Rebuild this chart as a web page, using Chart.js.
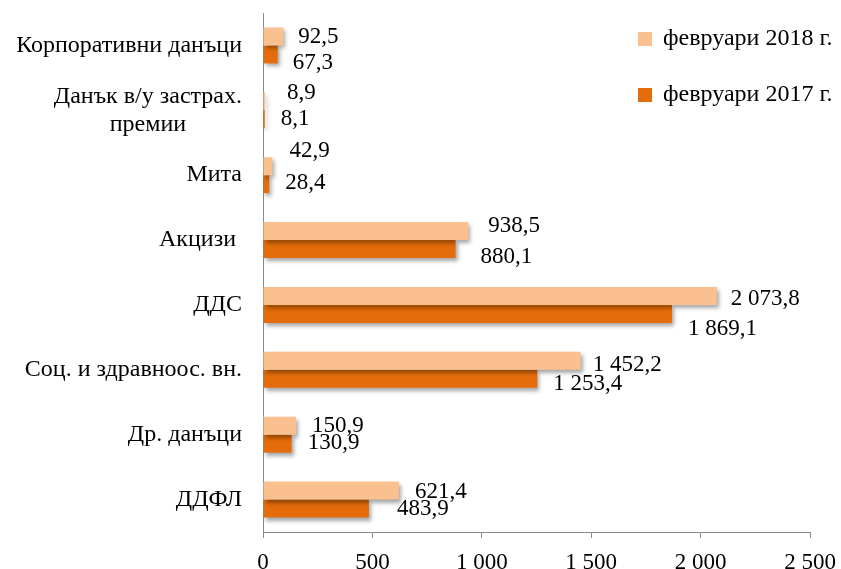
<!DOCTYPE html>
<html>
<head>
<meta charset="utf-8">
<script src="https://cdn.jsdelivr.net/npm/chart.js@4"></script>
<style>
  html, body { margin: 0; padding: 0; background: #fff; }
  #wrap { width: 841px; height: 569px; }
</style>
</head>
<body>
<div id="wrap"><canvas id="chart" width="841" height="569"></canvas></div>
<script>
// Categories, top to bottom
const categories = [
  "Корпоративни данъци",
  ["Данък в/у застрах.", "премии"],
  "Мита",
  "Акцизи ",
  "ДДС",
  "Соц. и здравноос. вн.",
  "Др. данъци",
  "ДДФЛ",
];
// Series values
const feb2018 = [92.5, 8.9, 42.9, 938.5, 2073.8, 1452.2, 150.9, 621.4];
const feb2017 = [67.3, 8.1, 28.4, 880.1, 1869.1, 1253.4, 130.9, 483.9];
// X axis ticks
const xTicks = [0, 500, 1000, 1500, 2000, 2500];

// Colors (Excel orange shades)
const lightOrange = "#FAC090";
const darkOrange = "#E46C0A";
const axisGray = "#898989";
const TEXT_FONT = "24px 'Liberation Serif'";
const NUM_FONT = "23px 'Liberation Serif'";

// Small hand nudges for the value labels, like the moved labels in the original
const labelNudge = [
  { dx: [15, 22, 17, 20, 14, 12, 16, 16], dy: [1, -8, -15, -5, 3, 4, 0, 1] },
  { dx: [15, 16, 16, 25, 16, 16, 16, 28], dy: [9, 0, -1, 8, 15, 5, -1, 0] },
];

// Number format: space for thousands, comma for decimals
function fmt(v, decimals) {
  const parts = v.toFixed(decimals).split(".");
  parts[0] = parts[0].replace(/\B(?=(\d{3})+(?!\d))/g, " ");
  return parts.join(",");
}

/* ----------------------------
    Shadow under the bars and value labels at the bar ends
---------------------------- */
const barDecor = {
  id: "barDecor",
  beforeDatasetsDraw(chart) {
    const ctx = chart.ctx;
    ctx.save();
    ctx.shadowColor = "rgba(0,0,0,0.35)";
    ctx.shadowBlur = 4;
    ctx.shadowOffsetX = 2;
    ctx.shadowOffsetY = 3;
  },
  afterDatasetsDraw(chart) {
    const ctx = chart.ctx;
    ctx.restore();
    ctx.save();
    ctx.font = NUM_FONT;
    ctx.fillStyle = "#000";
    ctx.textAlign = "left";
    ctx.textBaseline = "middle";
    chart.data.datasets.forEach((ds, di) => {
      chart.getDatasetMeta(di).data.forEach((bar, i) => {
        const n = labelNudge[di];
        ctx.fillText(fmt(ds.data[i], 1), bar.x + n.dx[i], bar.y + n.dy[i]);
      });
    });
    ctx.restore();
  },
};

/* ----------------------------
    Category labels (multi-line ones are centred in their block) and legend
---------------------------- */
const sideText = {
  id: "sideText",
  afterDraw(chart) {
    const ctx = chart.ctx;
    const yScale = chart.scales.y;
    const right = chart.chartArea.left - 21;
    const lineH = 28;
    ctx.save();
    ctx.font = TEXT_FONT;
    ctx.fillStyle = "#000";
    ctx.textBaseline = "middle";
    categories.forEach((lbl, i) => {
      const lines = Array.isArray(lbl) ? lbl : [lbl];
      const y = yScale.getPixelForTick(i);
      const maxW = Math.max(...lines.map((l) => ctx.measureText(l).width));
      ctx.textAlign = "center";
      lines.forEach((l, k) => {
        const ly = y + (k - (lines.length - 1) / 2) * lineH;
        ctx.fillText(l, right - maxW / 2, ly);
      });
    });

    // Legend in the top right corner
    const legendX = 638;
    const legendY = [39, 95];
    chart.data.datasets.forEach((ds, di) => {
      ctx.fillStyle = ds.backgroundColor;
      ctx.fillRect(legendX, legendY[di] - 7, 14, 14);
      ctx.fillStyle = "#000";
      ctx.textAlign = "left";
      ctx.fillText(ds.label, legendX + 25, legendY[di]);
    });
    ctx.restore();
  },
};

const config = {
  type: "bar",
  data: {
    labels: categories,
    datasets: [
      {
        label: "февруари 2018 г.",
        data: feb2018,
        backgroundColor: lightOrange,
        borderWidth: 0,
        categoryPercentage: 0.554,
        barPercentage: 1,
      },
      {
        label: "февруари 2017 г.",
        data: feb2017,
        backgroundColor: darkOrange,
        borderWidth: 0,
        categoryPercentage: 0.554,
        barPercentage: 1,
      },
    ],
  },
  options: {
    indexAxis: "y",
    responsive: false,
    animation: false,
    layout: { padding: { top: 13, right: 31, left: 0, bottom: 0 } },
    plugins: {
      legend: { display: false },
      tooltip: { enabled: false },
    },
    scales: {
      x: {
        min: 0,
        max: 2500,
        afterBuildTicks(scale) {
          scale.ticks = xTicks.map((v) => ({ value: v }));
        },
        afterFit(scale) {
          scale.height = 37;
          // let the layout padding alone decide the right edge
          scale.paddingLeft = 0;
          scale.paddingRight = 0;
        },
        border: { display: true, color: axisGray, width: 1 },
        grid: {
          display: true,
          drawOnChartArea: false,
          drawTicks: true,
          tickLength: 6,
          color: axisGray,
        },
        ticks: {
          color: "#000",
          font: { family: "'Liberation Serif'", size: 23, lineHeight: 1 },
          padding: 13,
          maxRotation: 0,
          callback: (v) => fmt(v, 0),
        },
      },
      y: {
        afterFit(scale) {
          scale.width = 263;
        },
        border: { display: true, color: axisGray, width: 1 },
        grid: { display: false },
        ticks: { display: false },
      },
    },
  },
  plugins: [barDecor, sideText],
};

const ctx = document.getElementById("chart").getContext("2d");
const myChart = new Chart(ctx, config);
</script>
</body>
</html>
